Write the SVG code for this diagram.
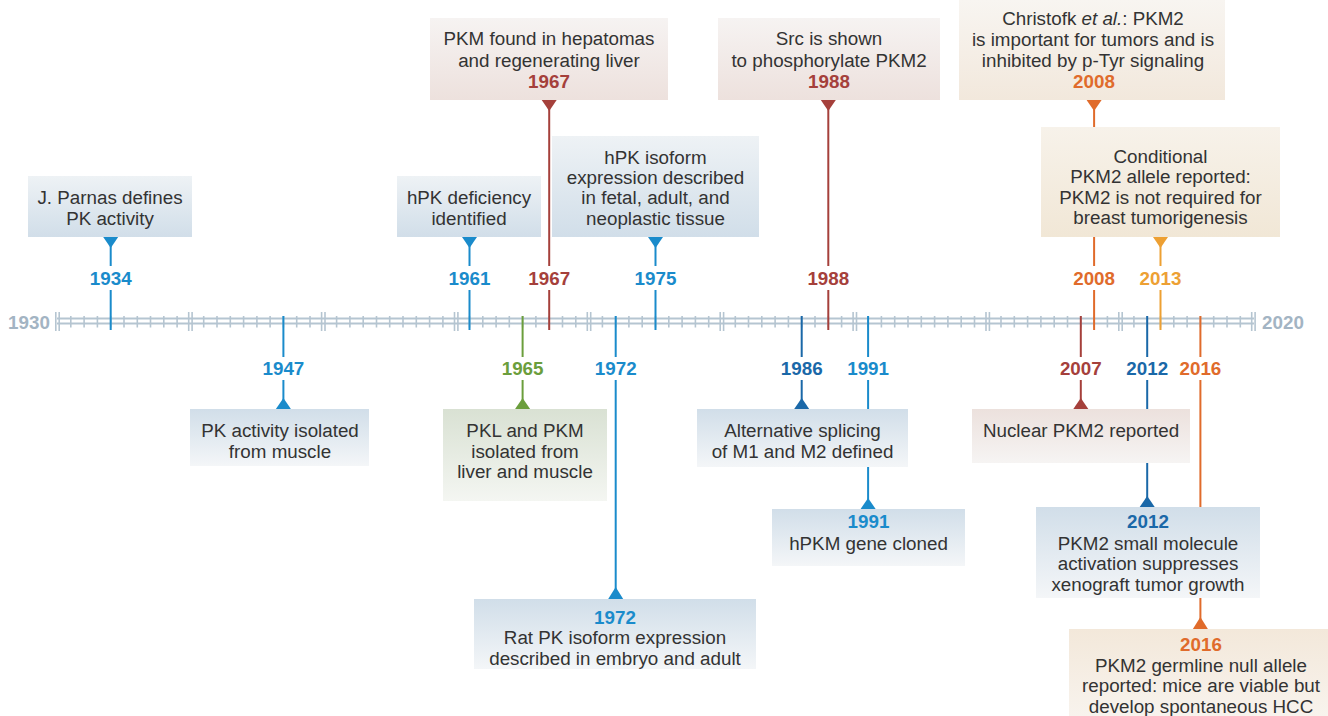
<svg xmlns="http://www.w3.org/2000/svg" width="1328" height="716" viewBox="0 0 1328 716">
<defs>
<linearGradient id="gBlueUp" x1="0" y1="0" x2="0" y2="1"><stop offset="0" stop-color="#eef2f5"/><stop offset="1" stop-color="#d1dee9"/></linearGradient>
<linearGradient id="gBlueDown" x1="0" y1="0" x2="0" y2="1"><stop offset="0" stop-color="#d1dee9"/><stop offset="1" stop-color="#f4f6f8"/></linearGradient>
<linearGradient id="gRedUp" x1="0" y1="0" x2="0" y2="1"><stop offset="0" stop-color="#f6f3f2"/><stop offset="1" stop-color="#ede1dd"/></linearGradient>
<linearGradient id="gRedDown" x1="0" y1="0" x2="0" y2="1"><stop offset="0" stop-color="#ece1dd"/><stop offset="1" stop-color="#f6f4f3"/></linearGradient>
<linearGradient id="gOrUp" x1="0" y1="0" x2="0" y2="1"><stop offset="0" stop-color="#f8f5f1"/><stop offset="1" stop-color="#f2e8dc"/></linearGradient>
<linearGradient id="gCond" x1="0" y1="0" x2="0" y2="1"><stop offset="0" stop-color="#f7f2ea"/><stop offset="1" stop-color="#f1e7d6"/></linearGradient>
<linearGradient id="gOrDown" x1="0" y1="0" x2="0" y2="1"><stop offset="0" stop-color="#f3e8da"/><stop offset="1" stop-color="#f8f3ed"/></linearGradient>
<linearGradient id="gGreenDown" x1="0" y1="0" x2="0" y2="1"><stop offset="0" stop-color="#d9e1d3"/><stop offset="1" stop-color="#f4f6f2"/></linearGradient>
</defs>
<style>
text{font-family:"Liberation Sans",Arial,Helvetica,sans-serif;font-size:18.8px;text-anchor:middle}
.t{fill:#333333}
.yr{font-weight:bold}
.ax{fill:#a3b4c3;font-weight:bold}
.cb{fill:#1a8bcb}.cd{fill:#1a68a8}.cr{fill:#a5403b}.cg{fill:#6b9e3c}.co{fill:#e06b2b}.cl{fill:#eda033}
.sb{stroke:#1a8bcb}.sd{stroke:#1a68a8}.sr{stroke:#a5403b}.sg{stroke:#6b9e3c}.so{stroke:#e06b2b}.sl{stroke:#eda033}
.rail{stroke:#b5c5d1;stroke-width:2;fill:none}
.tick{stroke:#b5c5d1;stroke-width:1.6}
.dec{stroke:#b5c5d1;stroke-width:1.6}
#connectors line{stroke-width:2}
</style>
<rect width="1328" height="716" fill="#ffffff"/>

<g id="axis">
<line class="rail" x1="57" y1="318.5" x2="1254" y2="318.5"/>
<line class="rail" x1="57" y1="323.5" x2="1254" y2="323.5"/>
<g id="ticks">
<line class="tick" x1="70.8" y1="316" x2="70.8" y2="327.5"/><line class="tick" x1="84.1" y1="316" x2="84.1" y2="327.5"/><line class="tick" x1="97.4" y1="316" x2="97.4" y2="327.5"/><line class="tick" x1="110.7" y1="316" x2="110.7" y2="327.5"/><line class="tick" x1="124.0" y1="316" x2="124.0" y2="327.5"/><line class="tick" x1="137.3" y1="316" x2="137.3" y2="327.5"/><line class="tick" x1="150.5" y1="316" x2="150.5" y2="327.5"/><line class="tick" x1="163.8" y1="316" x2="163.8" y2="327.5"/><line class="tick" x1="177.1" y1="316" x2="177.1" y2="327.5"/>
<line class="tick" x1="203.7" y1="316" x2="203.7" y2="327.5"/><line class="tick" x1="217.0" y1="316" x2="217.0" y2="327.5"/><line class="tick" x1="230.3" y1="316" x2="230.3" y2="327.5"/><line class="tick" x1="243.6" y1="316" x2="243.6" y2="327.5"/><line class="tick" x1="256.9" y1="316" x2="256.9" y2="327.5"/><line class="tick" x1="270.1" y1="316" x2="270.1" y2="327.5"/><line class="tick" x1="283.4" y1="316" x2="283.4" y2="327.5"/><line class="tick" x1="296.7" y1="316" x2="296.7" y2="327.5"/><line class="tick" x1="310.0" y1="316" x2="310.0" y2="327.5"/>
<line class="tick" x1="336.6" y1="316" x2="336.6" y2="327.5"/><line class="tick" x1="349.9" y1="316" x2="349.9" y2="327.5"/><line class="tick" x1="363.2" y1="316" x2="363.2" y2="327.5"/><line class="tick" x1="376.5" y1="316" x2="376.5" y2="327.5"/><line class="tick" x1="389.7" y1="316" x2="389.7" y2="327.5"/><line class="tick" x1="403.0" y1="316" x2="403.0" y2="327.5"/><line class="tick" x1="416.3" y1="316" x2="416.3" y2="327.5"/><line class="tick" x1="429.6" y1="316" x2="429.6" y2="327.5"/><line class="tick" x1="442.9" y1="316" x2="442.9" y2="327.5"/>
<line class="tick" x1="469.5" y1="316" x2="469.5" y2="327.5"/><line class="tick" x1="482.8" y1="316" x2="482.8" y2="327.5"/><line class="tick" x1="496.1" y1="316" x2="496.1" y2="327.5"/><line class="tick" x1="509.3" y1="316" x2="509.3" y2="327.5"/><line class="tick" x1="522.6" y1="316" x2="522.6" y2="327.5"/><line class="tick" x1="535.9" y1="316" x2="535.9" y2="327.5"/><line class="tick" x1="549.2" y1="316" x2="549.2" y2="327.5"/><line class="tick" x1="562.5" y1="316" x2="562.5" y2="327.5"/><line class="tick" x1="575.8" y1="316" x2="575.8" y2="327.5"/>
<line class="tick" x1="602.4" y1="316" x2="602.4" y2="327.5"/><line class="tick" x1="615.7" y1="316" x2="615.7" y2="327.5"/><line class="tick" x1="628.9" y1="316" x2="628.9" y2="327.5"/><line class="tick" x1="642.2" y1="316" x2="642.2" y2="327.5"/><line class="tick" x1="655.5" y1="316" x2="655.5" y2="327.5"/><line class="tick" x1="668.8" y1="316" x2="668.8" y2="327.5"/><line class="tick" x1="682.1" y1="316" x2="682.1" y2="327.5"/><line class="tick" x1="695.4" y1="316" x2="695.4" y2="327.5"/><line class="tick" x1="708.7" y1="316" x2="708.7" y2="327.5"/>
<line class="tick" x1="735.3" y1="316" x2="735.3" y2="327.5"/><line class="tick" x1="748.5" y1="316" x2="748.5" y2="327.5"/><line class="tick" x1="761.8" y1="316" x2="761.8" y2="327.5"/><line class="tick" x1="775.1" y1="316" x2="775.1" y2="327.5"/><line class="tick" x1="788.4" y1="316" x2="788.4" y2="327.5"/><line class="tick" x1="801.7" y1="316" x2="801.7" y2="327.5"/><line class="tick" x1="815.0" y1="316" x2="815.0" y2="327.5"/><line class="tick" x1="828.3" y1="316" x2="828.3" y2="327.5"/><line class="tick" x1="841.6" y1="316" x2="841.6" y2="327.5"/>
<line class="tick" x1="868.1" y1="316" x2="868.1" y2="327.5"/><line class="tick" x1="881.4" y1="316" x2="881.4" y2="327.5"/><line class="tick" x1="894.7" y1="316" x2="894.7" y2="327.5"/><line class="tick" x1="908.0" y1="316" x2="908.0" y2="327.5"/><line class="tick" x1="921.3" y1="316" x2="921.3" y2="327.5"/><line class="tick" x1="934.6" y1="316" x2="934.6" y2="327.5"/><line class="tick" x1="947.9" y1="316" x2="947.9" y2="327.5"/><line class="tick" x1="961.2" y1="316" x2="961.2" y2="327.5"/><line class="tick" x1="974.5" y1="316" x2="974.5" y2="327.5"/>
<line class="tick" x1="1001.0" y1="316" x2="1001.0" y2="327.5"/><line class="tick" x1="1014.3" y1="316" x2="1014.3" y2="327.5"/><line class="tick" x1="1027.6" y1="316" x2="1027.6" y2="327.5"/><line class="tick" x1="1040.9" y1="316" x2="1040.9" y2="327.5"/><line class="tick" x1="1054.2" y1="316" x2="1054.2" y2="327.5"/><line class="tick" x1="1067.5" y1="316" x2="1067.5" y2="327.5"/><line class="tick" x1="1080.8" y1="316" x2="1080.8" y2="327.5"/><line class="tick" x1="1094.1" y1="316" x2="1094.1" y2="327.5"/><line class="tick" x1="1107.4" y1="316" x2="1107.4" y2="327.5"/>
<line class="tick" x1="1133.9" y1="316" x2="1133.9" y2="327.5"/><line class="tick" x1="1147.2" y1="316" x2="1147.2" y2="327.5"/><line class="tick" x1="1160.5" y1="316" x2="1160.5" y2="327.5"/><line class="tick" x1="1173.8" y1="316" x2="1173.8" y2="327.5"/><line class="tick" x1="1187.1" y1="316" x2="1187.1" y2="327.5"/><line class="tick" x1="1200.4" y1="316" x2="1200.4" y2="327.5"/><line class="tick" x1="1213.7" y1="316" x2="1213.7" y2="327.5"/><line class="tick" x1="1227.0" y1="316" x2="1227.0" y2="327.5"/><line class="tick" x1="1240.3" y1="316" x2="1240.3" y2="327.5"/>
</g>
<g id="decades">
<line class="dec" x1="55.8" y1="312" x2="55.8" y2="331"/><line class="dec" x1="59.2" y1="312" x2="59.2" y2="331"/>
<line class="dec" x1="188.7" y1="312" x2="188.7" y2="331"/><line class="dec" x1="192.1" y1="312" x2="192.1" y2="331"/>
<line class="dec" x1="321.6" y1="312" x2="321.6" y2="331"/><line class="dec" x1="325.0" y1="312" x2="325.0" y2="331"/>
<line class="dec" x1="454.5" y1="312" x2="454.5" y2="331"/><line class="dec" x1="457.9" y1="312" x2="457.9" y2="331"/>
<line class="dec" x1="587.3" y1="312" x2="587.3" y2="331"/><line class="dec" x1="590.7" y1="312" x2="590.7" y2="331"/>
<line class="dec" x1="720.2" y1="312" x2="720.2" y2="331"/><line class="dec" x1="723.6" y1="312" x2="723.6" y2="331"/>
<line class="dec" x1="853.1" y1="312" x2="853.1" y2="331"/><line class="dec" x1="856.5" y1="312" x2="856.5" y2="331"/>
<line class="dec" x1="986.0" y1="312" x2="986.0" y2="331"/><line class="dec" x1="989.4" y1="312" x2="989.4" y2="331"/>
<line class="dec" x1="1118.8" y1="312" x2="1118.8" y2="331"/><line class="dec" x1="1122.2" y1="312" x2="1122.2" y2="331"/>
<line class="dec" x1="1251.7" y1="312" x2="1251.7" y2="331"/><line class="dec" x1="1255.1" y1="312" x2="1255.1" y2="331"/>
</g>
<text class="ax" x="29" y="329">1930</text>
<text class="ax" x="1283" y="329">2020</text>
</g>

<g id="connectors">
<line class="sb" x1="110.7" y1="246" x2="110.7" y2="266"/><line class="sb" x1="110.7" y1="290" x2="110.7" y2="330"/>
<polygon class="cb" points="103.2,237 118.2,237 110.7,248"/>
<line class="sb" x1="469.5" y1="246" x2="469.5" y2="266"/><line class="sb" x1="469.5" y1="290" x2="469.5" y2="330"/>
<polygon class="cb" points="462,237 477,237 469.5,248"/>
<line class="sb" x1="655.5" y1="246" x2="655.5" y2="266"/><line class="sb" x1="655.5" y1="290" x2="655.5" y2="330"/>
<polygon class="cb" points="648,237 663,237 655.5,248"/>
<line class="sr" x1="549.2" y1="108" x2="549.2" y2="266"/><line class="sr" x1="549.2" y1="290" x2="549.2" y2="330"/>
<polygon class="cr" points="541.7,100 556.7,100 549.2,111"/>
<line class="sr" x1="828.3" y1="108" x2="828.3" y2="266"/><line class="sr" x1="828.3" y1="290" x2="828.3" y2="330"/>
<polygon class="cr" points="820.8,100 835.8,100 828.3,111"/>
<line class="so" x1="1094.1" y1="108" x2="1094.1" y2="266"/><line class="so" x1="1094.1" y1="290" x2="1094.1" y2="330"/>
<polygon class="co" points="1086.6,100 1101.6,100 1094.1,111"/>
<line class="sl" x1="1160.5" y1="246" x2="1160.5" y2="266"/><line class="sl" x1="1160.5" y1="290" x2="1160.5" y2="330"/>
<polygon class="cl" points="1153,237 1168,237 1160.5,248"/>
<line class="sb" x1="283.4" y1="316" x2="283.4" y2="357"/><line class="sb" x1="283.4" y1="380" x2="283.4" y2="400"/>
<polygon class="cb" points="275.9,409 290.9,409 283.4,398"/>
<line class="sg" x1="522.6" y1="316" x2="522.6" y2="357"/><line class="sg" x1="522.6" y1="380" x2="522.6" y2="400"/>
<polygon class="cg" points="515.1,409 530.1,409 522.6,398"/>
<line class="sb" x1="615.7" y1="316" x2="615.7" y2="357"/><line class="sb" x1="615.7" y1="380" x2="615.7" y2="590"/>
<polygon class="cb" points="608.2,599 623.2,599 615.7,587"/>
<line class="sd" x1="801.7" y1="316" x2="801.7" y2="357"/><line class="sd" x1="801.7" y1="380" x2="801.7" y2="400"/>
<polygon class="cd" points="794.2,409 809.2,409 801.7,398"/>
<line class="sb" x1="868.1" y1="316" x2="868.1" y2="357"/><line class="sb" x1="868.1" y1="380" x2="868.1" y2="500"/>
<polygon class="cb" points="860.6,509 875.6,509 868.1,498"/>
<line class="sr" x1="1080.8" y1="316" x2="1080.8" y2="357"/><line class="sr" x1="1080.8" y1="380" x2="1080.8" y2="400"/>
<polygon class="cr" points="1073.3,409 1088.3,409 1080.8,398"/>
<line class="sd" x1="1147.2" y1="316" x2="1147.2" y2="357"/><line class="sd" x1="1147.2" y1="380" x2="1147.2" y2="498"/>
<polygon class="cd" points="1139.7,507 1154.7,507 1147.2,496"/>
<line class="so" x1="1200.4" y1="316" x2="1200.4" y2="357"/><line class="so" x1="1200.4" y1="380" x2="1200.4" y2="620"/>
<polygon class="co" points="1192.9,629 1207.9,629 1200.4,617"/>
</g>

<g id="n1934">
<rect x="28" y="176" width="164" height="61" fill="url(#gBlueUp)"/>
<text class="t" x="110" y="204">J. Parnas defines</text>
<text class="t" x="110" y="224.5">PK activity</text>
<text class="yr cb" x="110.7" y="285">1934</text>
</g>
<g id="n1961">
<rect x="397" y="176" width="144" height="61" fill="url(#gBlueUp)"/>
<text class="t" x="469" y="204">hPK deficiency</text>
<text class="t" x="469" y="224.5">identified</text>
<text class="yr cb" x="469.5" y="285">1961</text>
</g>
<g id="n1967">
<rect x="430" y="18" width="238" height="82" fill="url(#gRedUp)"/>
<text class="t" x="549" y="45">PKM found in hepatomas</text>
<text class="t" x="549" y="66.5">and regenerating liver</text>
<text class="yr cr" x="549" y="88">1967</text>
<text class="yr cr" x="549.2" y="285">1967</text>
</g>
<g id="n1975">
<rect x="552" y="136" width="207" height="101" fill="url(#gBlueUp)"/>
<text class="t" x="655.5" y="163.5">hPK isoform</text>
<text class="t" x="655.5" y="184">expression described</text>
<text class="t" x="655.5" y="204">in fetal, adult, and</text>
<text class="t" x="655.5" y="224.5">neoplastic tissue</text>
<text class="yr cb" x="655.5" y="285">1975</text>
</g>
<g id="n1988">
<rect x="718" y="18" width="222" height="82" fill="url(#gRedUp)"/>
<text class="t" x="829" y="45">Src is shown</text>
<text class="t" x="829" y="66.5">to phosphorylate PKM2</text>
<text class="yr cr" x="829" y="88">1988</text>
<text class="yr cr" x="828.3" y="285">1988</text>
</g>
<g id="n2008a">
<rect x="959" y="0" width="266" height="100" fill="url(#gOrUp)"/>
<text class="t" x="1093" y="25">Christofk <tspan font-style="italic">et al.</tspan>: PKM2</text>
<text class="t" x="1093" y="46">is important for tumors and is</text>
<text class="t" x="1093" y="66.5">inhibited by p-Tyr signaling</text>
<text class="yr co" x="1094" y="87.5">2008</text>
<text class="yr co" x="1094.1" y="285">2008</text>
</g>
<g id="n2013">
<rect x="1041" y="127" width="239" height="110" fill="url(#gCond)"/>
<text class="t" x="1160.5" y="162.5">Conditional</text>
<text class="t" x="1160.5" y="183">PKM2 allele reported:</text>
<text class="t" x="1160.5" y="203.5">PKM2 is not required for</text>
<text class="t" x="1160.5" y="224">breast tumorigenesis</text>
<text class="yr cl" x="1160.5" y="285">2013</text>
</g>

<g id="n1947">
<text class="yr cb" x="283.4" y="375">1947</text>
<rect x="190" y="409" width="179" height="57" fill="url(#gBlueDown)"/>
<text class="t" x="280" y="436.5">PK activity isolated</text>
<text class="t" x="280" y="457.5">from muscle</text>
</g>
<g id="n1965">
<text class="yr cg" x="522.6" y="375">1965</text>
<rect x="443" y="409" width="164" height="92" fill="url(#gGreenDown)"/>
<text class="t" x="525" y="436.5">PKL and PKM</text>
<text class="t" x="525" y="457.5">isolated from</text>
<text class="t" x="525" y="478">liver and muscle</text>
</g>
<g id="n1972">
<text class="yr cb" x="615.7" y="375">1972</text>
<rect x="474" y="599" width="282" height="70" fill="url(#gBlueDown)"/>
<text class="yr cb" x="615" y="623.5">1972</text>
<text class="t" x="615" y="644">Rat PK isoform expression</text>
<text class="t" x="615" y="664.5">described in embryo and adult</text>
</g>
<g id="n1986">
<text class="yr cd" x="801.7" y="375">1986</text>
<rect x="697" y="409" width="211" height="58" fill="url(#gBlueDown)"/>
<text class="t" x="802.5" y="436.5">Alternative splicing</text>
<text class="t" x="802.5" y="457.5">of M1 and M2 defined</text>
</g>
<g id="n1991">
<text class="yr cb" x="868.1" y="375">1991</text>
<rect x="772" y="509" width="193" height="57" fill="url(#gBlueDown)"/>
<text class="yr cb" x="868.5" y="528">1991</text>
<text class="t" x="868.5" y="549.5">hPKM gene cloned</text>
</g>
<g id="n2007">
<text class="yr cr" x="1080.8" y="375">2007</text>
<rect x="972" y="409" width="218" height="54" fill="url(#gRedDown)"/>
<text class="t" x="1081" y="436.5">Nuclear PKM2 reported</text>
</g>
<g id="n2012">
<text class="yr cd" x="1147.2" y="375">2012</text>
<rect x="1036" y="507" width="224" height="91" fill="url(#gBlueDown)"/>
<text class="yr cd" x="1148" y="528">2012</text>
<text class="t" x="1148" y="549.5">PKM2 small molecule</text>
<text class="t" x="1148" y="570">activation suppresses</text>
<text class="t" x="1148" y="590.5">xenograft tumor growth</text>
</g>
<g id="n2016">
<text class="yr co" x="1200.4" y="375">2016</text>
<rect x="1069" y="629" width="259" height="87" fill="url(#gOrDown)"/>
<text class="yr co" x="1201" y="650.5">2016</text>
<text class="t" x="1201" y="671.5">PKM2 germline null allele</text>
<text class="t" x="1201" y="692">reported: mice are viable but</text>
<text class="t" x="1201" y="712.5">develop spontaneous HCC</text>
</g>
</svg>
